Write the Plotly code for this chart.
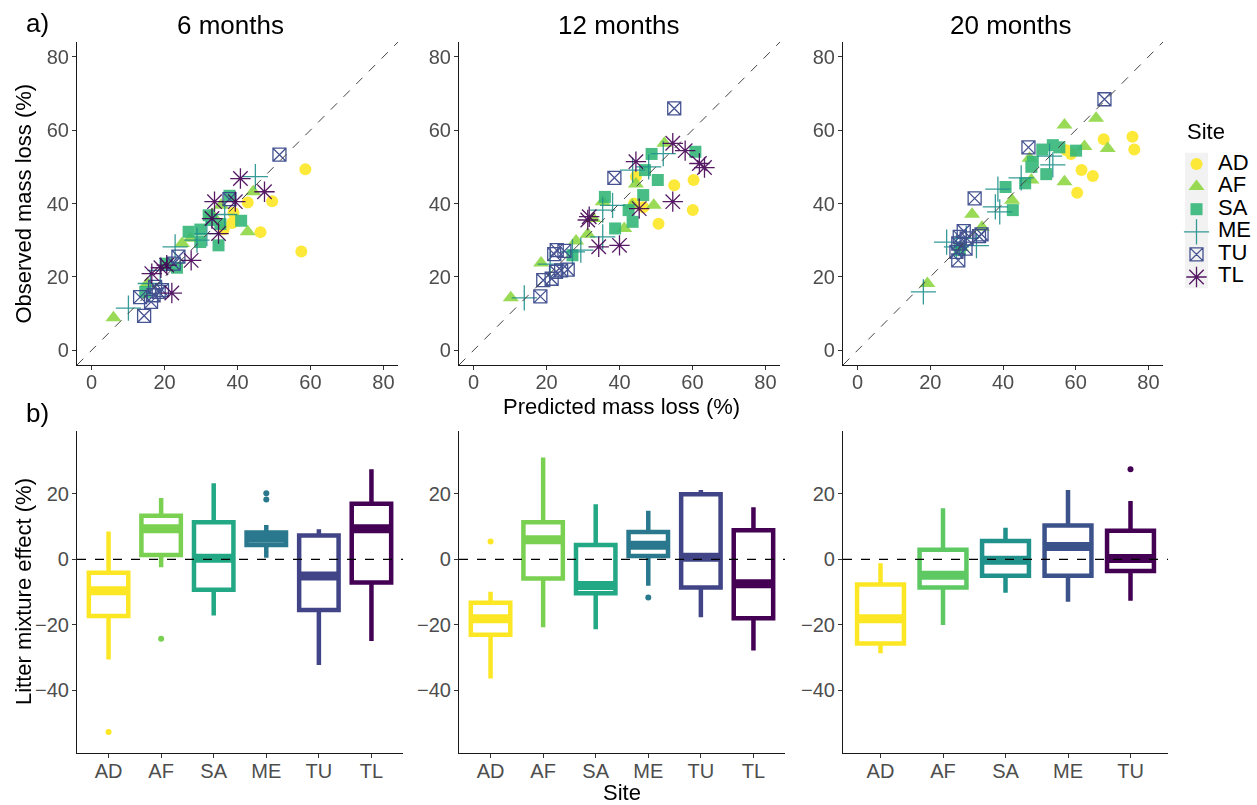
import plotly.graph_objects as go

W, H = 1257, 805
FONT = "Liberation Sans, Arial, sans-serif"

SITES = ["AD", "AF", "SA", "ME", "TU", "TL"]
SITES20 = ["AD", "AF", "SA", "ME", "TU"]
PERIODS = ["6 months", "12 months", "20 months"]

# scatter colours and box colours
SC_COL = ["#FDE725", "#8FD744", "#35B779", "#21908C", "#3B4A8C", "#440154"]
BOX_COL6 = ["#FDE725", "#7AD151", "#22A884", "#2A788E", "#414487", "#440154"]
BOX_COL5 = ["#FDE725", "#5EC962", "#21918C", "#3B528B", "#440154"]

# ---------------- predicted vs observed mass loss (%) ----------------
P6_AD_PRED = [58.6, 57.5, 49.5, 46.3, 42.8, 38.9, 38.5, 36.2]
P6_AD_OBS = [49.3, 26.9, 40.6, 32.2, 40.3, 37.5, 34.7, 33.0]
P6_AF_PRED = [6.0, 15.3, 24.8, 27.1, 33.0, 35.5, 42.8, 44.3, 20.5]
P6_AF_OBS = [8.9, 18.2, 29.1, 30.5, 37.0, 39.5, 32.3, 43.2, 23.0]
P6_SA_PRED = [37.8, 41.0, 34.8, 32.1, 29.8, 26.6, 35.3, 29.8, 23.4, 20.6, 14.7, 32.8]
P6_SA_OBS = [42.1, 35.3, 28.6, 36.8, 32.9, 32.3, 34.4, 29.5, 22.5, 23.6, 15.9, 35.5]
P6_ME_PRED = [44.9, 10.1, 22.9, 28.9, 18.8, 31.6, 16.1, 36.5]
P6_ME_OBS = [47.3, 11.5, 28.2, 30.0, 21.8, 31.8, 18.2, 37.0]
P6_TU_PRED = [51.5, 14.4, 13.3, 16.3, 18.4, 19.3, 17.4, 22.5, 23.8, 37.8, 17.0]
P6_TU_OBS = [53.3, 9.4, 14.5, 13.2, 15.9, 16.4, 17.3, 23.6, 25.5, 41.2, 15.0]
P6_TL_PRED = [40.8, 47.4, 33.7, 39.4, 33.0, 34.8, 27.3, 20.6, 16.5, 22.0, 19.0]
P6_TL_OBS = [46.8, 43.2, 40.5, 40.5, 35.9, 31.8, 24.5, 23.2, 20.9, 15.6, 22.5]

P12_AD_PRED = [60.3, 55.0, 60.1, 50.7, 44.5, 44.0, 46.5]
P12_AD_OBS = [46.4, 45.0, 38.2, 34.5, 47.3, 40.0, 39.0]
P12_AF_PRED = [10.2, 18.5, 28.1, 31.3, 32.8, 35.4, 41.3, 44.5, 49.4, 52.3, 43.5]
P12_AF_OBS = [14.3, 23.8, 29.8, 31.6, 35.9, 40.5, 33.2, 45.3, 39.5, 56.4, 39.5]
P12_SA_PRED = [60.8, 48.8, 47.0, 50.5, 46.5, 36.0, 42.5, 43.6, 38.8, 27.1]
P12_SA_OBS = [54.1, 53.5, 49.1, 46.4, 42.3, 41.8, 38.2, 35.0, 33.2, 25.9]
P12_ME_PRED = [52.0, 48.0, 43.6, 38.1, 35.4, 35.4, 29.4, 27.1, 13.9, 21.0]
P12_ME_OBS = [53.6, 50.0, 49.1, 39.5, 38.2, 30.9, 27.3, 26.8, 14.3, 23.5]
P12_TU_PRED = [55.0, 38.6, 18.3, 19.1, 21.4, 22.6, 24.0, 25.8, 22.1, 22.8, 24.9]
P12_TU_OBS = [65.9, 47.0, 14.7, 19.1, 19.5, 21.4, 21.8, 22.0, 26.2, 27.3, 27.1]
P12_TL_PRED = [54.6, 58.0, 61.9, 63.3, 44.5, 45.4, 54.6, 31.7, 31.3, 34.3, 40.0]
P12_TL_OBS = [56.4, 54.4, 50.9, 49.8, 51.4, 38.6, 40.5, 36.4, 35.5, 28.2, 28.6]

P20_AD_PRED = [75.6, 76.1, 67.7, 64.7, 61.6, 60.4, 57.4, 58.7]
P20_AD_OBS = [58.2, 54.7, 57.5, 47.5, 49.1, 42.9, 54.5, 53.5]
P20_AF_PRED = [19.2, 31.5, 34.2, 42.5, 47.3, 47.8, 56.9, 56.9, 62.4, 65.6, 68.8, 28.5]
P20_AF_OBS = [18.2, 37.1, 33.5, 40.9, 52.3, 46.4, 61.4, 45.9, 55.5, 63.2, 55.0, 28.0]
P20_SA_PRED = [50.8, 53.7, 55.5, 60.1, 48.2, 47.8, 51.9, 46.1, 40.7, 42.7, 28.1]
P20_SA_OBS = [54.7, 55.9, 55.3, 54.4, 51.4, 50.0, 48.0, 45.5, 44.5, 38.2, 27.3]
P20_ME_PRED = [18.1, 24.5, 32.7, 39.1, 37.9, 38.6, 45.0, 52.8, 53.7, 29.9, 27.2]
P20_ME_OBS = [15.9, 29.5, 28.5, 37.7, 39.1, 43.9, 47.0, 52.9, 50.5, 30.5, 28.2]
P20_TU_PRED = [67.9, 47.0, 32.2, 27.7, 27.2, 27.7, 29.2, 30.0, 33.4, 34.1, 28.1, 29.7]
P20_TU_OBS = [68.4, 55.3, 41.4, 24.5, 26.8, 29.1, 32.5, 30.5, 31.1, 31.6, 30.9, 27.7]
P20_TL_PRED = []
P20_TL_OBS = []

MASS_TICKS = [0, 20, 40, 60, 80]

# ---------------- litter mixture effect (%) box statistics ----------------
B6_LO = [-30.6, -2.4, -17.2, 0.5, -32.3, -25.0]
B6_Q1 = [-17.3, 1.3, -9.3, 4.4, -15.5, -7.1]
B6_MED = [-9.6, 9.3, 0.3, 6.4, -5.1, 9.3]
B6_Q3 = [-4.1, 13.3, 11.3, 8.2, 7.3, 17.0]
B6_HI = [8.5, 18.7, 23.2, 10.5, 9.2, 27.5]
B6_OUT_SITE = ["AD", "AF", "ME", "ME"]
B6_OUT_VAL = [-52.8, -24.3, 20.2, 18.3]

B12_LO = [-36.4, -20.8, -21.4, -8.1, -17.7, -27.9]
B12_Q1 = [-23.1, -5.9, -10.4, 1.0, -8.6, -18.0]
B12_MED = [-18.2, 6.0, -8.0, 4.3, 0.6, -7.5]
B12_Q3 = [-13.3, 11.3, 4.4, 8.3, 19.9, 8.9]
B12_HI = [-9.9, 31.1, 16.8, 14.8, 21.2, 15.9]
B12_OUT_SITE = ["AD", "ME"]
B12_OUT_VAL = [5.4, -11.7]

B20_LO = [-28.7, -20.1, -10.2, -13.0, -12.7]
B20_Q1 = [-25.7, -8.6, -5.0, -5.0, -3.6]
B20_MED = [-18.2, -4.9, -0.3, 3.9, 0.2]
B20_Q3 = [-7.7, 2.9, 5.6, 10.3, 8.7]
B20_HI = [-1.2, 15.6, 9.6, 21.2, 17.8]
B20_OUT_SITE = ["TU"]
B20_OUT_VAL = [27.5]

EFFECT_TICKS = [-40, -20, 0, 20]

# ---------------- layout geometry (pixels) ----------------
TOP_X = [(77, 398), (459, 780), (843, 1163)]
BOT_X = [(77, 403), (459, 785), (843, 1168)]
TOP_Y = (42, 365)
BOT_Y = (431, 753)
MASS_RANGE = [-4, 84]
EFFECT_RANGE = [-59.2, 39.2]
BOX_W = 0.75


def fx(p):
    return p / W


def fy(p):
    return 1 - p / H


SYMBOLS = {
    "AD": dict(symbol="circle", size=12, lw=0, op=0.9),
    "AF": dict(symbol="triangle-up", size=14, lw=0, op=0.9),
    "SA": dict(symbol="square", size=12, lw=0, op=0.9),
    "ME": dict(symbol="cross-thin-open", size=18, lw=1.3, op=0.9),
    "TU": dict(symbol="square-x-open", size=13, lw=1.3, op=0.95),
    "TL": dict(symbol="asterisk-open", size=17, lw=1.3, op=0.9),
}

scatter_data = {
    0: [(P6_AD_PRED, P6_AD_OBS), (P6_AF_PRED, P6_AF_OBS), (P6_SA_PRED, P6_SA_OBS),
        (P6_ME_PRED, P6_ME_OBS), (P6_TU_PRED, P6_TU_OBS), (P6_TL_PRED, P6_TL_OBS)],
    1: [(P12_AD_PRED, P12_AD_OBS), (P12_AF_PRED, P12_AF_OBS), (P12_SA_PRED, P12_SA_OBS),
        (P12_ME_PRED, P12_ME_OBS), (P12_TU_PRED, P12_TU_OBS), (P12_TL_PRED, P12_TL_OBS)],
    2: [(P20_AD_PRED, P20_AD_OBS), (P20_AF_PRED, P20_AF_OBS), (P20_SA_PRED, P20_SA_OBS),
        (P20_ME_PRED, P20_ME_OBS), (P20_TU_PRED, P20_TU_OBS), (P20_TL_PRED, P20_TL_OBS)],
}

box_data = [
    (SITES, BOX_COL6, B6_LO, B6_Q1, B6_MED, B6_Q3, B6_HI, B6_OUT_SITE, B6_OUT_VAL),
    (SITES, BOX_COL6, B12_LO, B12_Q1, B12_MED, B12_Q3, B12_HI, B12_OUT_SITE, B12_OUT_VAL),
    (SITES20, BOX_COL5, B20_LO, B20_Q1, B20_MED, B20_Q3, B20_HI, B20_OUT_SITE, B20_OUT_VAL),
]

fig = go.Figure()

# top scatter panels
for p in range(3):
    xa = "x" if p == 0 else f"x{p + 1}"
    ya = "y" if p == 0 else f"y{p + 1}"
    for si, site in enumerate(SITES):
        xs, ys = scatter_data[p][si]
        if not xs:
            continue
        s = SYMBOLS[site]
        fig.add_trace(go.Scatter(
            x=xs, y=ys, mode="markers", xaxis=xa, yaxis=ya, showlegend=False,
            opacity=s["op"], hoverinfo="skip",
            marker=dict(symbol=s["symbol"], size=s["size"], color=SC_COL[si],
                        line=dict(color=SC_COL[si], width=s["lw"])),
        ))

# bottom box panels
for p in range(3):
    xa = f"x{p + 4}"
    ya = f"y{p + 4}"
    sites, cols, lo, q1, med, q3, hi, osite, oval = box_data[p]
    for i, site in enumerate(sites):
        fig.add_trace(go.Box(
            x=[i], q1=[q1[i]], median=[med[i]], q3=[q3[i]],
            lowerfence=[lo[i]], upperfence=[hi[i]],
            width=BOX_W, whiskerwidth=0, fillcolor="white",
            line=dict(color=cols[i], width=4.5),
            xaxis=xa, yaxis=ya, showlegend=False, hoverinfo="skip",
        ))
        fig.add_trace(go.Scatter(
            x=[i - BOX_W / 2 + 0.02, i + BOX_W / 2 - 0.02], y=[med[i], med[i]],
            mode="lines", line=dict(color=cols[i], width=9),
            xaxis=xa, yaxis=ya, showlegend=False, hoverinfo="skip",
        ))
    for site, v in zip(osite, oval):
        i = sites.index(site)
        fig.add_trace(go.Scatter(
            x=[i], y=[v], mode="markers", marker=dict(size=6, color=cols[i]),
            xaxis=xa, yaxis=ya, showlegend=False, hoverinfo="skip",
        ))

# manual legend (keys + labels)
LEG_X = (1185, 1257)
LEG_Y = (152.7, 288.3)
for si, site in enumerate(SITES):
    s = SYMBOLS[site]
    fig.add_trace(go.Scatter(
        x=[11.5], y=[si], mode="markers", xaxis="x7", yaxis="y7",
        showlegend=False, hoverinfo="skip", opacity=s["op"], cliponaxis=False,
        marker=dict(symbol=s["symbol"], size=s["size"], color=SC_COL[si],
                    line=dict(color=SC_COL[si], width=s["lw"])),
    ))
fig.add_trace(go.Scatter(
    x=[33] * len(SITES), y=list(range(len(SITES))), mode="text", text=SITES,
    textposition="middle right", textfont=dict(size=22, color="black", family=FONT),
    xaxis="x7", yaxis="y7", showlegend=False, hoverinfo="skip", cliponaxis=False,
))

axis_common = dict(
    showline=True, linecolor="#1a1a1a", linewidth=1.1, ticks="outside", ticklen=4,
    tickcolor="#333333", tickwidth=1.1, showgrid=False, zeroline=False,
    tickfont=dict(size=20, color="#4D4D4D", family=FONT), fixedrange=True,
)

layout = dict(
    width=W, height=H, margin=dict(l=0, r=0, t=0, b=0),
    paper_bgcolor="white", plot_bgcolor="white", boxmode="overlay",
    font=dict(family=FONT, color="black"), showlegend=False,
)

for p in range(3):
    sfx = "" if p == 0 else str(p + 1)
    layout[f"xaxis{sfx}"] = dict(axis_common, domain=[fx(TOP_X[p][0]), fx(TOP_X[p][1])],
                                 range=MASS_RANGE, tickvals=MASS_TICKS,
                                 ticklabelstandoff=-5, anchor=f"y{sfx}")
    layout[f"yaxis{sfx}"] = dict(axis_common, domain=[fy(TOP_Y[1]), fy(TOP_Y[0])],
                                 range=MASS_RANGE, tickvals=MASS_TICKS,
                                 ticklabelstandoff=-1, anchor=f"x{sfx}")
    b = p + 4
    n = len(box_data[p][0])
    layout[f"xaxis{b}"] = dict(axis_common, domain=[fx(BOT_X[p][0]), fx(BOT_X[p][1])],
                               range=[-0.6, n - 0.4], tickvals=list(range(n)),
                               ticktext=box_data[p][0], ticklabelstandoff=-4,
                               anchor=f"y{b}")
    layout[f"yaxis{b}"] = dict(axis_common, domain=[fy(BOT_Y[1]), fy(BOT_Y[0])],
                               range=EFFECT_RANGE, tickvals=EFFECT_TICKS,
                               ticklabelstandoff=-1, anchor=f"x{b}")

layout["xaxis7"] = dict(domain=[fx(LEG_X[0]), fx(LEG_X[1])], range=[0, 72],
                        visible=False, anchor="y7", fixedrange=True)
layout["yaxis7"] = dict(domain=[fy(LEG_Y[1]), fy(LEG_Y[0])], range=[5.5, -0.5],
                        visible=False, anchor="x7", fixedrange=True)

fig.update_layout(**layout)

shapes = []
# y = x reference lines
for p in range(3):
    sfx = "" if p == 0 else str(p + 1)
    shapes.append(dict(type="line", xref=f"x{sfx}", yref=f"y{sfx}",
                       x0=MASS_RANGE[0], y0=MASS_RANGE[0], x1=MASS_RANGE[1], y1=MASS_RANGE[1],
                       line=dict(color="#444444", width=1, dash="dash"), layer="above"))
# zero lines
for p in range(3):
    b = p + 4
    shapes.append(dict(type="line", xref=f"x{b} domain", yref=f"y{b}",
                       x0=0, x1=1, y0=0, y1=0,
                       line=dict(color="black", width=1.2, dash="dash"), layer="above"))
# legend key background
shapes.append(dict(type="rect", xref="paper", yref="paper",
                   x0=fx(1185), x1=fx(1208), y0=fy(LEG_Y[1]), y1=fy(LEG_Y[0]),
                   fillcolor="#F2F2F2", line=dict(width=0), layer="below"))
fig.update_layout(shapes=shapes)

ann = []
TITLE_X = [230, 618, 1010]
for p in range(3):
    ann.append(dict(text=PERIODS[p], x=fx(TITLE_X[p]), y=fy(25), xref="paper", yref="paper",
                    showarrow=False, font=dict(size=26, color="black", family=FONT),
                    xanchor="center", yanchor="middle"))
ann.append(dict(text="a)", x=fx(37), y=fy(23), xref="paper", yref="paper", showarrow=False,
                font=dict(size=26, color="black", family=FONT), xanchor="center", yanchor="middle"))
ann.append(dict(text="b)", x=fx(37), y=fy(413), xref="paper", yref="paper", showarrow=False,
                font=dict(size=26, color="black", family=FONT), xanchor="center", yanchor="middle"))
ann.append(dict(text="Predicted mass loss (%)", x=fx(621), y=fy(406), xref="paper", yref="paper",
                showarrow=False, font=dict(size=22, color="black", family=FONT),
                xanchor="center", yanchor="middle"))
ann.append(dict(text="Site", x=fx(622), y=fy(792), xref="paper", yref="paper",
                showarrow=False, font=dict(size=22, color="black", family=FONT),
                xanchor="center", yanchor="middle"))
ann.append(dict(text="Observed mass loss (%)", x=fx(23), y=fy(203.5), xref="paper", yref="paper",
                showarrow=False, textangle=-90, font=dict(size=22, color="black", family=FONT),
                xanchor="center", yanchor="middle"))
ann.append(dict(text="Litter mixture effect (%)", x=fx(23), y=fy(592), xref="paper", yref="paper",
                showarrow=False, textangle=-90, font=dict(size=22, color="black", family=FONT),
                xanchor="center", yanchor="middle"))
ann.append(dict(text="Site", x=fx(1185), y=fy(131.7), xref="paper", yref="paper",
                showarrow=False, font=dict(size=22, color="black", family=FONT),
                xanchor="left", yanchor="middle"))
fig.update_layout(annotations=ann)

fig.write_html("out.html", config={"displayModeBar": False},
               post_script="document.body.style.margin='0';document.body.style.padding='0';")
